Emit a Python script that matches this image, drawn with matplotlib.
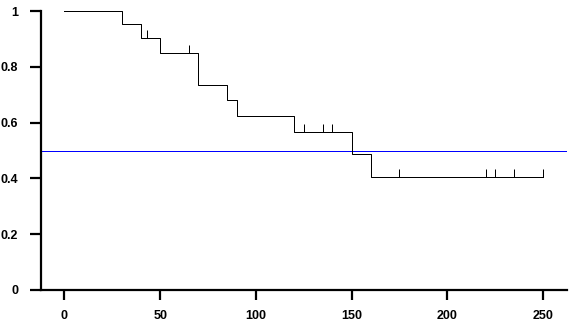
import numpy as np
import matplotlib
matplotlib.use("Agg")
import matplotlib.pyplot as plt

# Kaplan-Meier step data
event_times = [0, 30, 40, 50, 70, 85, 90, 120, 150, 160, 250]
survival = [1.0, 0.952, 0.903, 0.85, 0.735, 0.681, 0.624, 0.567, 0.488, 0.406, 0.406]
censor_times = [43, 65, 125, 135, 140, 175, 220, 225, 235, 250]
reference_level = 0.5
x_ticks = [0, 50, 100, 150, 200, 250]
y_ticks = [0, 0.2, 0.4, 0.6, 0.8, 1]
y_tick_labels = ["0", "0.2", "0.4", "0.6", "0.8", "1"]

plt.rcParams['font.family'] = ['Liberation Sans', 'DejaVu Sans']

fig = plt.figure(figsize=(5.79, 3.24), dpi=100)
ax = fig.add_axes([40.5 / 579, (324 - 290) / 324, (567 - 40.5) / 579, (290 - 11) / 324])

ax.step(event_times, survival, where='post', color='black', lw=0.72, zorder=3, snap=True)

# censor marks: value of the step function at each censor time
et = np.array(event_times)
sv = np.array(survival)
idx = np.searchsorted(et, censor_times, side='right') - 1
censor_vals = sv[idx]
ax.plot(censor_times, censor_vals, linestyle='none', marker=[(0, 0), (0, 1)],
        markersize=11.5, markeredgewidth=0.72, color='black', zorder=3)

ax.axhline(reference_level, color='#0000ff', lw=0.5, zorder=2, antialiased=False)

ax.set_xlim(-12.5, 262.5)
ax.set_ylim(0, 1)
ax.set_xticks(x_ticks)
ax.set_xticklabels([str(v) for v in x_ticks])
ax.set_yticks(y_ticks)
ax.set_yticklabels(y_tick_labels)

for s in ['top', 'right']:
    ax.spines[s].set_visible(False)
for s in ['left', 'bottom']:
    ax.spines[s].set_linewidth(1.6)
    ax.spines[s].set_color('black')

ax.tick_params(axis='y', direction='out', length=8, width=1.6, pad=8, labelsize=9)
ax.tick_params(axis='x', direction='out', length=7.2, width=1.6, pad=7.3, labelsize=9)
for lab in ax.get_xticklabels() + ax.get_yticklabels():
    lab.set_fontweight('bold')

fig.savefig('out.png', dpi=100)
